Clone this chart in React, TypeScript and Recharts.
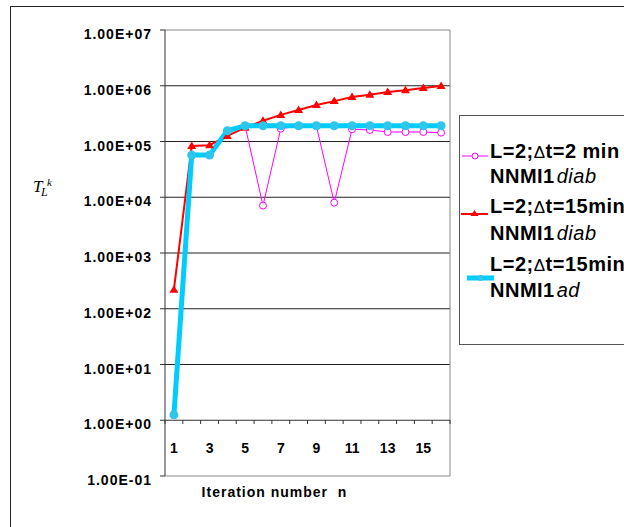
import React from "react";
import { CartesianGrid, Legend, Line, LineChart, ReferenceLine, XAxis, YAxis } from "recharts";

// iteration number n
const iterations = [1, 2, 3, 4, 5, 6, 7, 8, 9, 10, 11, 12, 13, 14, 15, 16];

// T_L^k per iteration
const diab2min = [1.25, 5.7e4, 5.7e4, 1.56e5, 1.9e5, 7.1e3, 1.7e5, 1.9e5, 1.9e5, 8.0e3, 1.66e5, 1.61e5, 1.48e5, 1.48e5, 1.48e5, 1.44e5];
const diab15min = [2.2e2, 8.3e4, 8.6e4, 1.26e5, 1.77e5, 2.36e5, 3.0e5, 3.67e5, 4.5e5, 5.3e5, 6.3e5, 6.9e5, 7.7e5, 8.3e5, 9.1e5, 9.9e5];
const ad15min = [1.25, 5.7e4, 5.7e4, 1.56e5, 1.92e5, 1.92e5, 1.92e5, 1.92e5, 1.92e5, 1.92e5, 1.92e5, 1.92e5, 1.92e5, 1.92e5, 1.92e5, 1.92e5];

const yTicks = [0.1, 1, 10, 100, 1e3, 1e4, 1e5, 1e6, 1e7];
const gridValues = [10, 100, 1e3, 1e4, 1e5, 1e6];
const xLabels = [1, 3, 5, 7, 9, 11, 13, 15];

const data = iterations.map((n, i) => ({ n, diab2: diab2min[i], diab15: diab15min[i], ad15: ad15min[i] }));
const xBoundaries = [...iterations.map((n) => n - 0.5), iterations[iterations.length - 1] + 0.5];
const xTicks = [...xBoundaries, ...xLabels].sort((a, b) => a - b);

const FONT = "'Liberation Sans', Arial, sans-serif";
const SERIF = "'Liberation Serif', 'Times New Roman', serif";
const MAGENTA = "#FF00FF";
const RED = "#FF0000";
const CYAN = "#00CCFF";

const series = [
  { key: "diab2", color: MAGENTA, head: "L=2;", tail: "t=2 min", mode: "diab" },
  { key: "diab15", color: RED, head: "L=2;", tail: "t=15min", mode: "diab" },
  { key: "ad15", color: CYAN, head: "L=2;", tail: "t=15min", mode: "ad" },
];

function fmtExp(v: number) {
  const [m, e] = v.toExponential(2).toUpperCase().split("E");
  const ev = Number(e);
  return `${m}E${ev < 0 ? "-" : "+"}${String(Math.abs(ev)).padStart(2, "0")}`;
}

function YTick(props: any) {
  const { x, y, payload } = props;
  return (
    <text x={x} y={y + 9} textAnchor="end" fontFamily={FONT} fontSize={14} fontWeight="bold" letterSpacing={1} fill="#000">
      {fmtExp(payload.value)}
    </text>
  );
}

function XTick(props: any) {
  const { x, y, payload } = props;
  const v = payload.value;
  if (v % 1 === 0) {
    return (
      <text x={x} y={y - 23} textAnchor="middle" fontFamily={FONT} fontSize={14} fontWeight="bold" fill="#000">
        {v}
      </text>
    );
  }
  return <line x1={x} x2={x} y1={y - 56} y2={y - 52} stroke="#333" />;
}

function Triangle(props: any) {
  const { cx, cy } = props;
  if (cx == null || cy == null) return null;
  return <polygon points={`${cx},${cy - 4.5} ${cx + 4.5},${cy + 3} ${cx - 4.5},${cy + 3}`} fill={RED} />;
}

const renderXLabel = (props: any) => {
  const vb = props.viewBox || {};
  return (
    <text
      x={vb.x + vb.width / 2 - 33}
      y={vb.y + 21}
      textAnchor="middle"
      fontFamily={FONT}
      fontSize={14}
      fontWeight="bold"
      letterSpacing={1}
      fill="#000"
      style={{ whiteSpace: "pre" }}
    >
      Iteration number  n
    </text>
  );
};

const renderYLabel = (props: any) => {
  const vb = props.viewBox || {};
  const x = vb.x + 33;
  const y = vb.y + 162;
  return (
    <g>
      <text x={x} y={y} fontFamily={SERIF} fontStyle="italic" fontSize={17} fill="#000">T</text>
      <text x={x + 8} y={y + 4} fontFamily={SERIF} fontStyle="italic" fontSize={12} fill="#000">L</text>
      <text x={x + 14} y={y - 6} fontFamily={SERIF} fontStyle="italic" fontSize={11} fill="#000">k</text>
    </g>
  );
};

function LegendSymbol({ s, y, x0, x1 }: any) {
  const cx = (x0 + x1) / 2;
  if (s.key === "diab2") {
    return (
      <g>
        <line x1={x0} x2={x1} y1={y} y2={y} stroke={MAGENTA} strokeWidth={1} />
        <circle cx={cx} cy={y} r={3} stroke={MAGENTA} fill="#fff" />
      </g>
    );
  }
  if (s.key === "diab15") {
    return (
      <g>
        <line x1={x0} x2={x1} y1={y} y2={y} stroke={RED} strokeWidth={2} />
        <polygon points={`${cx},${y - 4} ${cx + 4},${y + 2} ${cx - 4},${y + 2}`} fill={RED} />
      </g>
    );
  }
  return (
    <g>
      <line x1={x0} x2={x1} y1={y} y2={y} stroke={CYAN} strokeWidth={5} />
      <circle cx={cx} cy={y} r={3} fill="#2FC6EC" />
    </g>
  );
}

const legendRows = [
  { base: 42, second: 67, line: 40, x0: 2, x1: 28 },
  { base: 97, second: 124, line: 98, x0: 1, x1: 28 },
  { base: 155, second: 181, line: 162, x0: 7, x1: 34 },
];

const renderLegend = () => (
  <div style={{ width: 200, height: 230, border: "1px solid #555", background: "#fff", boxSizing: "border-box" }}>
    <svg width={200} height={228} style={{ display: "block" }}>
      {series.map((s, i) => {
        const r = legendRows[i];
        return (
          <g key={s.key}>
            <LegendSymbol s={s} y={r.line} x0={r.x0} x1={r.x1} />
            <text x={30} y={r.base} fontFamily={FONT} fontSize={20} fontWeight="bold" letterSpacing={0.5} fill="#000">
              {s.head}
              <tspan fontWeight="normal" fontSize={17}>Δ</tspan>
              {s.tail}
            </text>
            <text x={30} y={r.second} fontFamily={FONT} fontSize={20} letterSpacing={0.5} fill="#000">
              <tspan fontWeight="bold">NNMI1</tspan>
              <tspan fontStyle="italic" dx={2}>{s.mode}</tspan>
            </text>
          </g>
        );
      })}
    </svg>
  </div>
);

export default function App() {
  return (
    <div style={{ position: "absolute", left: 0, top: 0, width: 624, height: 527, overflow: "hidden", background: "#fff" }}>
      <div style={{ position: "absolute", left: 10, top: 6, width: 700, height: 600, border: "1px solid #222" }} />
      <div style={{ position: "absolute", left: 0, top: 0 }}>
        <LineChart width={624} height={527} data={data} margin={{ top: 30, right: 174, bottom: 0, left: 0 }}>
          <CartesianGrid vertical={false} horizontalValues={gridValues} stroke="#222" />
          <XAxis
            type="number"
            dataKey="n"
            domain={[0.5, 16.5]}
            ticks={xTicks}
            interval={0}
            tick={XTick}
            axisLine={false}
            tickLine={false}
            tickSize={0}
            tickMargin={0}
            height={51}
            label={renderXLabel}
          />
          <YAxis
            scale="log"
            domain={[0.1, 1e7]}
            ticks={yTicks}
            interval={0}
            tick={YTick}
            tickSize={5}
            tickMargin={8}
            width={165}
            axisLine={{ stroke: "#333" }}
            tickLine={{ stroke: "#333" }}
            label={renderYLabel}
            allowDataOverflow
          />
          <ReferenceLine y={1e7} stroke="#888" ifOverflow="visible" />
          <ReferenceLine y={0.1} stroke="#888" ifOverflow="visible" />
          <ReferenceLine x={16.5} stroke="#888" ifOverflow="visible" />
          <ReferenceLine y={1} stroke="#333" ifOverflow="visible" />
          <Legend
            layout="vertical"
            align="center"
            verticalAlign="middle"
            wrapperStyle={{ left: 459, top: 115, width: 200, height: 230 }}
            content={renderLegend}
          />
          <Line
            type="linear"
            dataKey="diab2"
            stroke={MAGENTA}
            strokeWidth={1}
            dot={{ r: 3.5, stroke: MAGENTA, strokeWidth: 1, fill: "#fff" }}
            isAnimationActive={false}
          />
          <Line
            type="linear"
            dataKey="diab15"
            stroke={RED}
            strokeWidth={2}
            dot={(p: any) => <Triangle key={p.index} {...p} />}
            isAnimationActive={false}
          />
          <Line
            type="linear"
            dataKey="ad15"
            stroke={CYAN}
            strokeWidth={5}
            dot={{ r: 4.5, fill: "#2FC6EC", stroke: "none" }}
            isAnimationActive={false}
          />
        </LineChart>
      </div>
    </div>
  );
}
